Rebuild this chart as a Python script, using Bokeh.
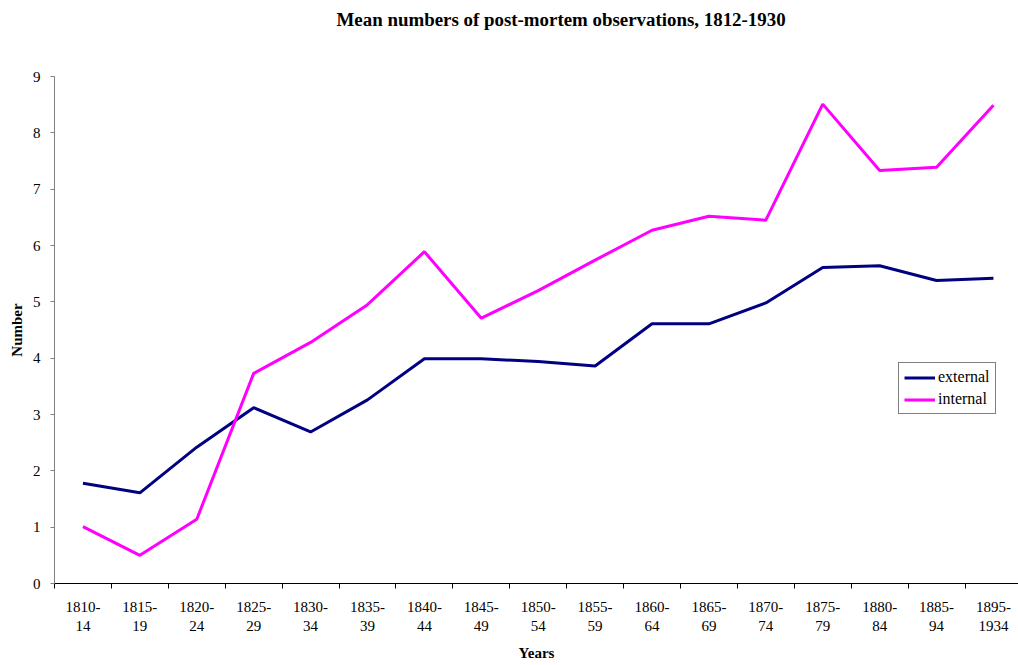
from bokeh.plotting import figure
from bokeh.models import (ColumnDataSource, FixedTicker, LinearAxis, Range1d,
                          Legend, LegendItem, Title)
from bokeh.embed import file_html
from bokeh.resources import INLINE

title_text = "Mean numbers of post-mortem observations, 1812-1930"
periods_top = ["1810-", "1815-", "1820-", "1825-", "1830-", "1835-", "1840-", "1845-",
               "1850-", "1855-", "1860-", "1865-", "1870-", "1875-", "1880-", "1885-", "1895-"]
periods_bottom = ["14", "19", "24", "29", "34", "39", "44", "49", "54", "59", "64",
                  "69", "74", "79", "84", "94", "1934"]
external = [1.78, 1.61, 2.42, 3.12, 2.69, 3.26, 3.99, 3.99, 3.94, 3.86, 4.61, 4.61,
            4.98, 5.61, 5.64, 5.38, 5.42]
internal = [1.01, 0.50, 1.14, 3.73, 4.28, 4.95, 5.89, 4.71, 5.20, 5.74, 6.27, 6.52,
            6.45, 8.51, 7.33, 7.39, 8.49]
y_ticks = list(range(0, 10))

FONT = "Liberation Serif"
n = len(periods_top)
idx = list(range(n))

src = ColumnDataSource(dict(x=idx, external=external, internal=internal))

p = figure(width=1018, height=665, output_backend="svg", toolbar_location=None,
           x_range=Range1d(-0.5, 16.44), y_range=Range1d(0, 9),
           x_axis_location=None, y_axis_location=None,
           min_border_left=54, min_border_right=0, min_border_top=76, min_border_bottom=82)
p.outline_line_color = None
p.grid.visible = False
p.background_fill_color = "white"

# invisible spacer axis above the frame, so that the title sits near the top of the page
spacer = LinearAxis(ticker=FixedTicker(ticks=[0], minor_ticks=[]),
                    major_label_overrides={0: ""}, major_label_text_font_size="1px",
                    major_label_standoff=0, major_tick_out=45, major_tick_in=0,
                    minor_tick_out=0, minor_tick_in=0,
                    axis_line_color=None, major_tick_line_color=None,
                    minor_tick_line_color=None)
p.add_layout(spacer, "above")

p.add_layout(Title(text=title_text, align="left", offset=282, standoff=0,
                   vertical_align="top",
                   text_font=FONT, text_font_size="18.9px", text_font_style="bold",
                   text_color="black"), "above")

r1 = p.line("x", "external", source=src, line_color="#000080", line_width=3)
r2 = p.line("x", "internal", source=src, line_color="#FF00FF", line_width=3)

# y axis
yax = LinearAxis(ticker=FixedTicker(ticks=y_ticks, minor_ticks=[]),
                 axis_label="Number", axis_label_text_font=FONT,
                 axis_label_text_font_size="15px", axis_label_text_font_style="bold",
                 axis_label_text_color="black", axis_label_standoff=5,
                 major_label_text_font=FONT, major_label_text_font_size="15px",
                 major_label_text_color="black",
                 major_label_standoff=10, major_tick_out=4, major_tick_in=0,
                 minor_tick_out=0, minor_tick_in=0,
                 axis_line_color="#808080", major_tick_line_color="#808080")
p.add_layout(yax, "left")

# x axis: first line of labels + boundary ticks
bounds = [i - 0.5 for i in range(n + 1)]
xax1 = LinearAxis(ticker=FixedTicker(ticks=idx, minor_ticks=bounds),
                  major_label_overrides={i: s for i, s in zip(idx, periods_top)},
                  major_label_text_font=FONT, major_label_text_font_size="15px",
                  major_label_text_color="black",
                  major_label_standoff=13, major_tick_out=0, major_tick_in=0,
                  minor_tick_out=5, minor_tick_in=0,
                  axis_line_color="black", minor_tick_line_color="black")
p.add_layout(xax1, "below")

# x axis: second line of labels + axis title
xax2 = LinearAxis(ticker=FixedTicker(ticks=idx, minor_ticks=[]),
                  major_label_overrides={i: s for i, s in zip(idx, periods_bottom)},
                  major_label_text_font=FONT, major_label_text_font_size="15px",
                  major_label_text_color="black",
                  major_label_standoff=6, major_tick_out=0, major_tick_in=0,
                  axis_line_color=None,
                  axis_label="Years", axis_label_text_font=FONT,
                  axis_label_text_font_size="15px", axis_label_text_font_style="bold",
                  axis_label_text_color="black", axis_label_standoff=11)
p.add_layout(xax2, "below")

legend = Legend(items=[LegendItem(label="external", renderers=[r1]),
                       LegendItem(label="internal", renderers=[r2])],
                location=(844, 169), label_text_font=FONT, label_text_font_size="16px",
                label_text_color="black",
                border_line_color="black", border_line_width=1,
                glyph_width=31, glyph_height=17, label_height=17, spacing=4,
                padding=5, margin=0, label_standoff=3, background_fill_alpha=1)
p.add_layout(legend, "center")

open("out.html", "w").write(file_html(p, INLINE))
